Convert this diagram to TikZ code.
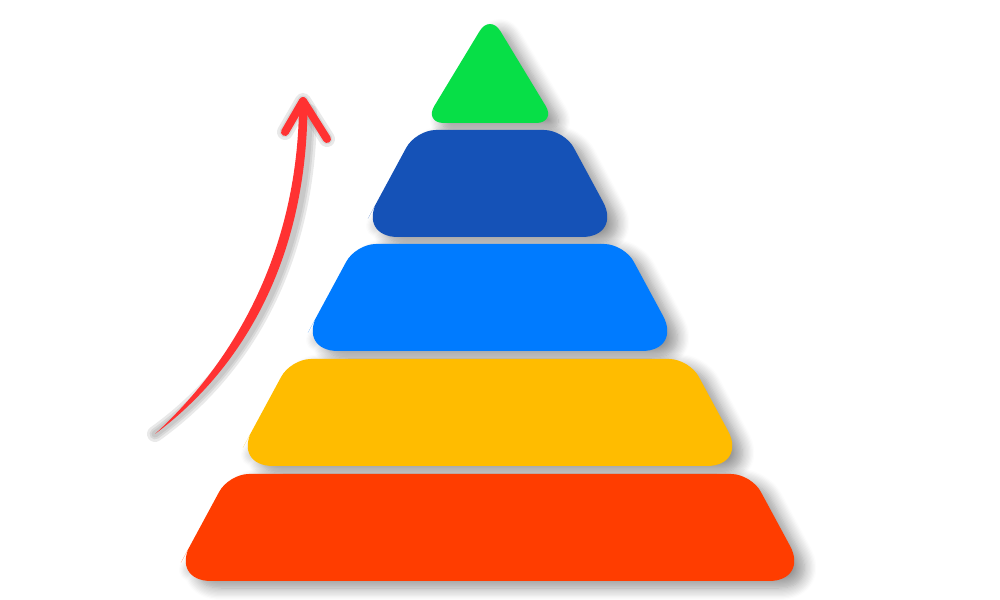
\documentclass[tikz,border=0pt]{standalone}
\usepackage{xcolor}
\usepackage{tikz}
\usetikzlibrary{shadows.blur}
\definecolor{tierred}{RGB}{255,61,0}
\definecolor{tieryellow}{RGB}{255,188,0}
\definecolor{tierblue}{RGB}{0,123,255}
\definecolor{tiernavy}{RGB}{21,82,183}
\definecolor{tiergreen}{RGB}{7,223,71}
\definecolor{arrowred}{RGB}{255,50,50}
\definecolor{shadowgray}{RGB}{120,120,120}
\tikzset{
  tiershade/.style={blur shadow={shadow xshift=1.0mm,shadow yshift=-0.7mm,
                            shadow blur steps=10,shadow blur radius=1.2mm,
                            shadow opacity=42}},
  tier/.style={fill=#1},
  arrowbody/.style={fill=arrowred},
  arrowhead/.style={draw=arrowred,line width=0.8mm,line cap=round,line join=round},
  arrowshade/.style={draw=shadowgray,line cap=round,line join=round,opacity=0.16},
}
% one tier: #1 top y, #2 bottom y, #3 half width at top, #4 half width at bottom
% (mid points on the edges keep the wide bottom and the tight top roundings apart)
\newcommand\tierpath[4]{(490,#2) [rounded corners=4mm] -- ({490-#4},#2)
  -- ({490-(#3+#4)/2},{(#1+#2)/2}) [rounded corners=2mm] -- ({490-#3},#1)
  -- (490,#1) -- ({490+#3},#1) -- ({490+(#3+#4)/2},{(#1+#2)/2})
  [rounded corners=4mm] -- ({490+#4},#2) -- cycle}
\newcommand\toppath{[rounded corners=2mm] (490,14) -- (556,123) -- (424,123) -- cycle}

\begin{document}
\begin{tikzpicture}[x=0.1mm,y=-0.1mm]
  \useasboundingbox (0,0) rectangle (1000,600);

  % shadows first, so no tier darkens its neighbour
  \path[tiershade] \tierpath{474}{581}{261.2}{319};
  \path[tiershade] \tierpath{359}{466}{199.2}{257};
  \path[tiershade] \tierpath{244}{351}{134.2}{192};
  \path[tiershade] \tierpath{130}{237}{74.2}{132};
  \path[tiershade] \toppath;

  % pyramid, from the base up
  \path[tier=tierred]    \tierpath{474}{581}{261.2}{319};
  \path[tier=tieryellow] \tierpath{359}{466}{199.2}{257};
  \path[tier=tierblue]   \tierpath{244}{351}{134.2}{192};
  \path[tier=tiernavy]   \tierpath{130}{237}{74.2}{132};
  \path[tier=tiergreen]  \toppath;

  % growth arrow
  \coordinate (tail) at (155,434);
  \coordinate (tip)  at (303,101);
  \coordinate (armL) at (285,132);
  \coordinate (armR) at (327,139);

  \begin{scope}[shift={(6,6)}]
    \foreach \w in {1.6mm,1.1mm,0.7mm}
      \draw[arrowshade,line width=\w] (tail) .. controls (241,362) and (302,253) .. (303,106);
    \foreach \w in {1.6mm,1.1mm}
      \draw[arrowshade,line width=\w] (armL) -- (tip) -- (armR);
  \end{scope}

  \fill[arrowbody] (tail) .. controls (236,360) and (297,250) .. (299,108)
     -- (307.5,108) .. controls (306,256) and (246,366) .. (tail) -- cycle;
  \draw[arrowhead] (armL) -- (tip) -- (armR);
\end{tikzpicture}
\end{document}
